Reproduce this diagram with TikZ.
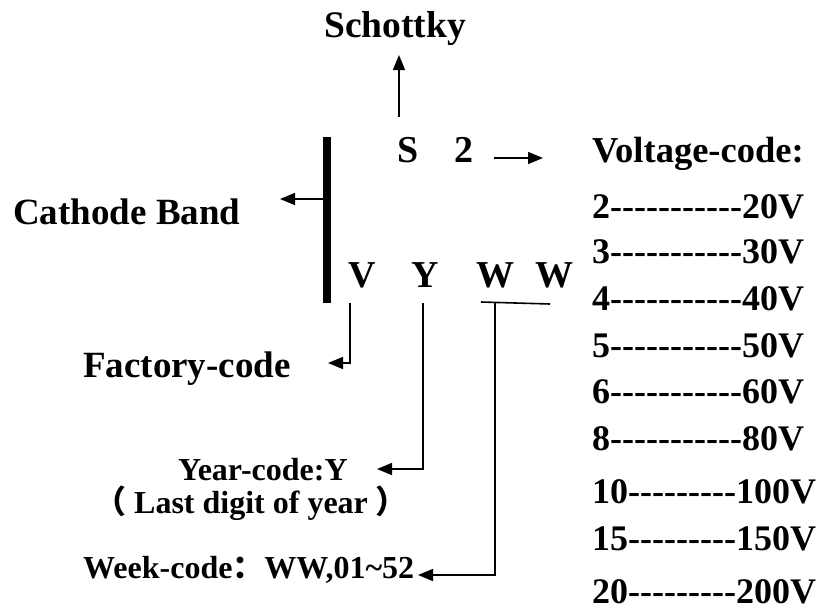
\documentclass[tikz,border=0pt]{standalone}
\usepackage{fontspec}
\setmainfont{Liberation Serif}
\newfontfamily\cjkfont{Noto Sans CJK SC}
\usetikzlibrary{arrows.meta}
\newcommand\hy{-\kern0pt }
\newcommand\hyn[1]{\foreach\i in {1,...,#1}{\hy}}
\tikzset{
  lbl/.style={anchor=base west, inner sep=0pt, font=\bfseries\fontsize{#1}{#1}\selectfont},
  lbl/.default=34,
  conn/.style={line width=1.6pt},
  arr/.style={line width=1.6pt, -{Triangle[length=15pt,width=12pt]}},
  band/.style={fill=black, inner sep=0pt, minimum width=8pt, minimum height=166pt}
}
\begin{document}
\begin{tikzpicture}[x=1pt,y=-1pt]
\useasboundingbox (0,0) rectangle (827,613);
% texts
\node[lbl=37.5] (schottky) at (324,37) {Schottky};
\node[lbl=37] (cathode) at (13,224) {Cathode Band};
\node[lbl=37] (factory) at (83,377) {Factory-code};
\node[lbl=38] (s) at (397,162) {S};
\node[lbl=38] (two) at (454,162) {2};
\node[lbl=38] (v) at (348,287) {V};
\node[lbl=38] (y) at (411,287) {Y};
\node[lbl=38] (w1) at (476,287) {W};
\node[lbl=38] (w2) at (535,287) {W};
\node[lbl=36.5] (vc) at (592,162) {Voltage-code:};
\node[lbl=36] (r2) at (592,218) {2\hyn{11}20V};
\node[lbl=36] (r3) at (592,263) {3\hyn{11}30V};
\node[lbl=36] (r4) at (592,310) {4\hyn{11}40V};
\node[lbl=36] (r5) at (592,357) {5\hyn{11}50V};
\node[lbl=36] (r6) at (592,403) {6\hyn{11}60V};
\node[lbl=36] (r8) at (592,450) {8\hyn{11}80V};
\node[lbl=36] (r10) at (592,503) {10\hyn{9}100V};
\node[lbl=36] (r15) at (592,550) {15\hyn{9}150V};
\node[lbl=36] (r20) at (592,603) {20\hyn{9}200V};
\node[lbl=32] (year) at (178,480) {Year-code:Y};
\node[lbl=32] (last) at (94,513) {{\cjkfont （}\ Last digit of year\ {\cjkfont ）}};
\node[lbl=32] (week) at (83,578) {Week-code{\cjkfont ：}WW,01\textasciitilde52};
% cathode band
\node[band] (bar) at (327,220) {};
% coordinates
\coordinate (schA) at (399,117);
\coordinate (schB) at (399,55);
\coordinate (catB) at (280,199);
\coordinate (vcA) at (494,158);
\coordinate (vcB) at (543,158);
\coordinate (vTop) at (350,303);
\coordinate (vBend) at (350,363);
\coordinate (vEnd) at (328,363);
\coordinate (yTop) at (423,303);
\coordinate (yBend) at (423,469);
\coordinate (yEnd) at (377,469);
\coordinate (wL) at (481,302);
\coordinate (wR) at (550,304);
\coordinate (wTop) at (495,302.4);
\coordinate (wBend) at (495,575);
\coordinate (wEnd) at (418,575);
% connectors
\draw[arr] (schA) -- (schB);
\draw[arr] (bar.west |- catB) -- (catB);
\draw[arr] (vcA) -- (vcB);
\draw[arr] (vTop) -- (vBend) -- (vEnd);
\draw[arr] (yTop) -- (yBend) -- (yEnd);
\draw[conn] (wL) -- (wR);
\draw[arr] (wTop) -- (wBend) -- (wEnd);
\end{tikzpicture}
\end{document}
